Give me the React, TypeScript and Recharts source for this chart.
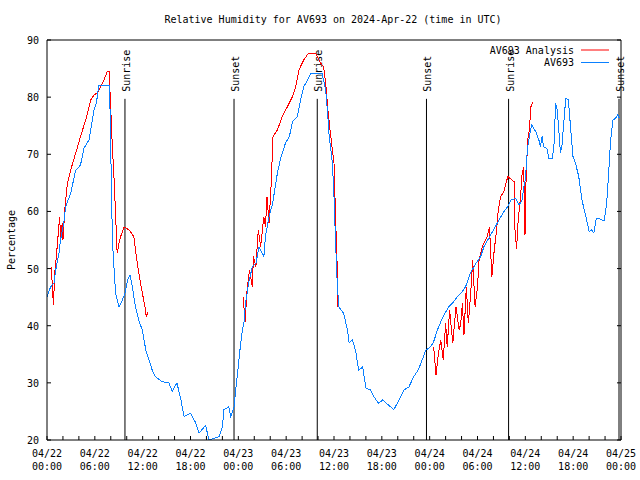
import React from 'react';
import { LineChart, Line, XAxis, YAxis, ReferenceLine, Legend } from 'recharts';

const FONT = '"DejaVu Sans Mono", monospace';
const RED = '#ff0000';
const BLUE = '#0a80ff';

// hours since 2024-04-22 00:00 UTC
const stationHours = [
  0, 0.46, 0.88, 1.09, 1.5, 1.7, 2.1, 2.34, 2.97, 3.6, 4.2, 4.64, 5.27, 5.48, 5.9, 6.1, 6.2, 6.5, 7.78, 7.9,
  7.99, 8.1, 8.2, 8.4, 8.6, 9.03, 9.45, 9.78, 10.1, 10.4, 10.7, 11.1, 11.5, 11.96, 12.4, 12.8, 13.2, 13.6, 14.46, 15.3,
  15.7, 16.3, 16.8, 17.2, 18, 18.65, 19.07, 19.9, 20.3, 21.6, 22, 22.2, 22.8, 23.04, 23.46, 23.67, 23.9, 24.2, 24.5, 24.7,
  24.9, 25.3, 25.75, 26.2, 26.6, 27.2, 27.4, 27.85, 28.3, 28.9, 29.3, 29.9, 30.4, 30.8, 31.4, 31.8, 32.2, 32.7, 33.1, 34.5,
  34.96, 35.2, 35.4, 35.8, 36, 36.2, 36.4, 36.6, 37.2, 37.7, 37.9, 38.3, 38.7, 39.1, 39.6, 40, 40.6, 41, 41.6, 42.1,
  43.1, 43.5, 44.15, 44.8, 45.4, 46, 46.45, 46.9, 47.5, 48.1, 48.5, 48.96, 49.4, 49.8, 50.4, 51, 51.5, 52.1, 52.5, 53.1,
  53.8, 54.4, 54.8, 55.4, 56.1, 56.5, 57.3, 57.75, 58.2, 58.8, 59.2, 59.6, 59.8, 60, 60.25, 60.5, 60.8, 61.3, 61.7, 61.9,
  62.1, 62.3, 62.7, 62.96, 63.4, 63.6, 63.8, 64, 64.2, 64.4, 64.6, 64.85, 65.07, 65.4, 65.7, 65.98, 66.3, 66.7, 67.1, 67.6,
  68, 68.3, 68.6, 68.9, 69.2, 69.6, 69.9, 70.2, 70.4, 70.7, 71, 71.3, 71.6, 71.8,
];
const stationValues = [
  45.1, 46.8, 47.5, 49.7, 52.7, 55, 58, 60.8, 63.2, 67.2, 68.1, 71.1, 72.5, 74.3, 77.7, 78.6, 79, 82.1, 82.1, 78.3,
  71.3, 63.2, 55, 50.3, 45.7, 43.3, 44.5, 45.7, 48, 48.9, 46.8, 43.3, 41, 39.2, 35.7, 34, 32.2, 31.1, 30.2, 30,
  28.5, 30, 27, 24.1, 24.7, 23, 21.2, 22.6, 20, 20.6, 22.3, 25.3, 25.8, 24.1, 25.8, 28.75, 31.7, 35.7, 39.2, 40.4,
  43.9, 47.5, 50.3, 50.9, 53.8, 52.1, 55.6, 59.1, 61.4, 66.7, 69.3, 71.9, 73.1, 75.7, 76.6, 79.5, 81.8, 83, 84.2, 84.2,
  81.2, 77.2, 73.1, 68.5, 62.6, 54.5, 47.5, 43.3, 42.2, 39.2, 37, 37.5, 35.7, 32.2, 32.8, 29.1, 28.75, 27.6, 26.4, 27,
  25.8, 25.3, 27, 28.75, 29.3, 31.1, 32, 33.4, 35.7, 36.3, 37.2, 39.2, 40.7, 41.9, 43.3, 44.2, 45.1, 46, 46.8, 49.2,
  50.9, 52.1, 53.8, 55.3, 57, 58, 59.95, 60.8, 62, 62.3, 61.1, 62, 64.3, 65.5, 70.75, 73.1, 75.1, 74, 72.5, 71.3,
  73.1, 71.3, 71, 69.3, 69.3, 71.9, 78.9, 77.7, 74.25, 70.2, 71.6, 76, 79.8, 79.5, 74.25, 69.6, 68.4, 66.1, 62, 59.1,
  56.5, 56.75, 56.2, 58.8, 58.8, 58.5, 58.5, 61.4, 65.5, 72.5, 76, 76.3, 76.9, 76.3,
];

// null marks a gap in the analysis record
const analysisHours = [
  0.54, 0.8, 1.0, 1.17, 1.38, 1.59, 1.7, 1.9, 2.0, 2.26, 2.55, 2.97, 3.6, 4.2, 4.85, 5.48, 5.9, 6.3, 6.7, 7.15,
  7.57, 7.78, 7.99, 8.2, 8.4, 8.6, 8.8, 9.03, 9.24, 9.66, 10.3, 10.9, 11.1, 11.4, 11.67, 11.96, 12.3, 12.45, 12.67,
  18,
  24.6, 24.84, 25.1, 25.4, 25.75, 25.9, 26.2, 26.5, 26.8, 27.2, 27.4, 27.6, 27.85, 28.1, 28.35, 28.9, 29.5, 30.15, 30.8, 31.2,
  31.6, 32.2, 32.8, 33.7, 34.1, 34.5, 34.7, 34.96, 35.2, 35.5, 35.75, 36, 36.1, 36.3, 36.4, 36.5,
  42,
  48.5, 48.8, 49.1, 49.4, 49.7, 50, 50.2, 50.5, 50.9, 51.3, 51.7, 51.9, 52.1, 52.3, 52.6, 52.85, 53.15, 53.4, 53.7, 54,
  54.2, 54.6, 55.2, 55.5, 55.8, 56.1, 56.4, 56.6, 56.9, 57.3, 57.8, 58.6, 58.7, 58.9, 59.1, 59.4, 59.6, 59.8, 59.96, 60.1,
  60.3, 60.5, 60.7, 60.96,
];
const analysisValues = [
  50.3, 43.6, 49.75, 52.1, 55.6, 59.1, 55, 57.9, 55, 60.8, 64.9, 67.25, 70.2, 73.1, 76, 79.5, 80.4, 80.7, 81.8, 83,
  84.5, 84.5, 78.3, 71.3, 66.1, 59.7, 52.7, 54.4, 55.6, 57.3, 56.75, 55.6, 53.25, 50.3, 48, 45.7, 43.3, 41.6, 42.45,
  null,
  45.1, 40.7, 46.25, 49.75, 46.8, 52.1, 50.3, 56.75, 53.8, 59.1, 57.3, 62.6, 57.9, 64.3, 73.1, 74.25, 76.6, 78.3, 80.1, 81.8,
  84.75, 86.5, 87.7, 87.7, 86.5, 85.6, 85.3, 82.4, 78.3, 74.25, 71.3, 68.4, 63.75, 54.4, 50.3, 43.3,
  null,
  36.3, 31.4, 35.2, 37.5, 34, 40.4, 36.3, 42.75, 36.9, 43.3, 39.25, 40.4, 43.9, 38.4, 46.8, 40.4, 45.7, 51.5, 43.3, 46.8,
  51.5, 53.8, 55.6, 57.3, 48.6, 53.25, 56.75, 60.25, 62.6, 63.45, 66.1, 65.2, 56.75, 53.5, 58.5, 62.6, 66.7, 67.8, 55.9, 66.1,
  72.5, 74.25, 78.3, 79.2,
];

const hourTicks = [0, 2, 4, 6, 8, 10, 12, 14, 16, 18, 20, 22, 24, 26, 28, 30, 32, 34, 36, 38, 40, 42, 44, 46, 48, 50, 52, 54, 56, 58, 60, 62, 64, 66, 68, 70, 72];
const percentTicks = [20, 30, 40, 50, 60, 70, 80, 90];

const sunEventHours = [9.78, 23.46, 33.9, 47.6, 57.9, 71.75];
const sunEventLabels = ['Sunrise', 'Sunset', 'Sunrise', 'Sunset', 'Sunrise', 'Sunset'];

const stationData = stationHours.map((t, i) => ({ t, v: stationValues[i] }));
const analysisData = analysisHours.map((t, i) => ({ t, v: analysisValues[i] }));

const BottomTick = (props: any) => {
  const { x, y, payload } = props;
  const h = payload.value;
  const day = 22 + Math.floor(h / 24);
  const hh = String(h % 24).padStart(2, '0');
  return (
    <g>
      <line x1={x} y1={y} x2={x} y2={y - 4} stroke="#000" />
      {h % 6 === 0 && (
        <text fontFamily={FONT} fontSize={10} textAnchor="middle" fill="#000">
          <tspan x={x} y={y + 17}>{`04/${day}`}</tspan>
          <tspan x={x} y={y + 30}>{`${hh}:00`}</tspan>
        </text>
      )}
    </g>
  );
};

const TopTick = (props: any) => {
  const { x, y } = props;
  return <line x1={x} y1={y} x2={x} y2={y + 4} stroke="#000" />;
};

const LeftTick = (props: any) => {
  const { x, y, payload } = props;
  return (
    <g>
      <line x1={x} y1={y} x2={x + 4} y2={y} stroke="#000" />
      <text x={x - 8} y={y + 4} textAnchor="end" fontFamily={FONT} fontSize={10} fill="#000">
        {payload.value}
      </text>
    </g>
  );
};

const RightTick = (props: any) => {
  const { x, y } = props;
  return <line x1={x} y1={y} x2={x - 4} y2={y} stroke="#000" />;
};

const SunLabel = (props: any) => {
  const { viewBox, text } = props;
  if (!viewBox) return null;
  return (
    <text
      transform={`translate(${viewBox.x + 5},${viewBox.y - 7}) rotate(-90)`}
      textAnchor="start"
      fontFamily={FONT}
      fontSize={10}
      fill="#000"
    >
      {text}
    </text>
  );
};

const YLabel = () => (
  <text transform="translate(15,240) rotate(-90)" textAnchor="middle" fontFamily={FONT} fontSize={10} fill="#000">
    Percentage
  </text>
);

const LegendBox = () => (
  <svg width={170} height={30} style={{ display: 'block' }}>
    <text x={104} y={9.5} textAnchor="end" fontFamily={FONT} fontSize={10} fill="#000">AV693 Analysis</text>
    <line x1={111} x2={139} y1={6} y2={6} stroke={RED} />
    <text x={104} y={22} textAnchor="end" fontFamily={FONT} fontSize={10} fill="#000">AV693</text>
    <line x1={111} x2={139} y1={18.5} y2={18.5} stroke={BLUE} />
  </svg>
);

export default function App() {
  return (
    <div style={{ position: 'absolute', left: 0, top: 0, width: 640, height: 480, background: '#fff' }}>
      <div
        style={{
          position: 'absolute', top: 14, left: 0, width: 666, textAlign: 'center',
          fontFamily: FONT, fontSize: 10, lineHeight: '12px', color: '#000',
        }}
      >
        Relative Humidity for AV693 on 2024-Apr-22 (time in UTC)
      </div>
      <LineChart width={640} height={480} margin={{ top: 0, right: 0, bottom: 0, left: 0 }}>
        <XAxis
          dataKey="t" type="number" domain={[0, 72]} ticks={hourTicks} interval={0}
          height={40} tickSize={0} tickMargin={0} tickLine={false} tick={<BottomTick />}
          axisLine={{ stroke: '#000' }} allowDataOverflow
        />
        <XAxis
          xAxisId="top" orientation="top" type="number" domain={[0, 72]} ticks={hourTicks} interval={0}
          height={40} tickSize={0} tickMargin={0} tickLine={false} tick={<TopTick />}
          axisLine={{ stroke: '#000' }} allowDataOverflow
        />
        <YAxis
          type="number" domain={[20, 90]} ticks={percentTicks} interval={0} width={47}
          tickSize={0} tickMargin={0} tickLine={false} tick={<LeftTick />}
          axisLine={{ stroke: '#000' }} label={<YLabel />} allowDataOverflow
        />
        <YAxis
          yAxisId="right" orientation="right" type="number" domain={[20, 90]} ticks={percentTicks} interval={0} width={19}
          tickSize={0} tickMargin={0} tickLine={false} tick={<RightTick />}
          axisLine={{ stroke: '#000' }} allowDataOverflow
        />
        {sunEventHours.map((h, i) => (
          <ReferenceLine
            key={i}
            segment={[{ x: h, y: 79.7 }, { x: h, y: 20 }]}
            stroke="#000"
            label={<SunLabel text={sunEventLabels[i]} />}
          />
        ))}
        <Line
          data={analysisData} dataKey="v" name="AV693 Analysis" type="linear" stroke={RED}
          strokeWidth={1} dot={false} isAnimationActive={false} connectNulls={false}
          shapeRendering="crispEdges"
        />
        <Line
          data={stationData} dataKey="v" name="AV693" type="linear" stroke={BLUE}
          strokeWidth={1} dot={false} isAnimationActive={false}
          shapeRendering="crispEdges"
        />
        <Legend
          layout="horizontal" verticalAlign="middle" align="center"
          content={<LegendBox />}
          wrapperStyle={{ position: 'absolute', left: 470, top: 44, width: 170, height: 30 }}
        />
      </LineChart>
    </div>
  );
}
